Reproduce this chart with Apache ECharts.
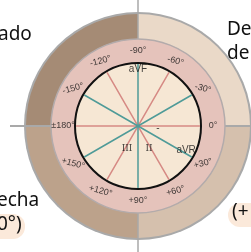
<!DOCTYPE html>
<html>
<head>
<meta charset="utf-8">
<script src="https://cdn.jsdelivr.net/npm/echarts@6/dist/echarts.min.js"></script>
<style>
  html, body { margin: 0; padding: 0; background: #fff; }
  #chart_div { width: 251px; height: 252px; }
</style>
</head>
<body>
<div id="chart_div"></div>
<script>
// 六轴参考系统 (导联角度, 顺时针为正)
var leadAngles = [0, 60, 120, -150, -30, 90]
var leadColors = ['#d68a84', '#d68a84', '#d68a84', '#4f9b98', '#4f9b98', '#4f9b98']

// 刻度
var tickAngles = [-90, -60, -30, 0, 30, 60, 90, 120, 150, 180, -150, -120]
var tickLabels = ['-90°', '-60°', '-30°', '0°', '+30°', '+60°', '+90°', '+120°', '+150°', '±180°', '-150°', '-120°']

// 导联名 [半径, 角度, 文字]
var leadNames = [[57, -90, 'aVF'], [54, 27, 'aVR'], [25, 64, 'II'], [25, 116, 'III'], [20, 6, '-']]

// 外环四个象限 (从上方顺时针)
var quadrants = [1, 1, 1, 1]
var quadColors = ['#ead9c8', '#d5c0ad', '#bca28b', '#a58b75']

var R_IN = 63, R_PINK = 87, R_OUT = 112, R_TICK = 75

var myChart = echarts.init(document.getElementById('chart_div'))

function norm(a) {
  a = a + 180
  return a > 180 ? a - 360 : a
}

var series = []

// 外环
series.push({
  type: 'pie', silent: true, z: 1, center: [138, 126], radius: [0, R_OUT + 2],
  label: { show: false }, data: [{ value: 1, itemStyle: { color: '#a9a9a9' } }]
})
series.push({
  type: 'pie', silent: true, z: 1, center: [138, 126], radius: [R_PINK, R_OUT],
  startAngle: 90, clockwise: true, label: { show: false },
  data: quadrants.map(function (v, i) { return { value: v, itemStyle: { color: quadColors[i] } } })
})

// 灰色十字
series.push({
  type: 'line', coordinateSystem: 'polar', silent: true, z: 2, symbol: 'none',
  lineStyle: { color: '#a9a9a9', width: 2 },
  data: [[128, 180], [0, 0], [140, 0]]
})
series.push({
  type: 'line', coordinateSystem: 'polar', silent: true, z: 2, symbol: 'none',
  lineStyle: { color: '#a9a9a9', width: 1.5 },
  data: [[140, -90], [0, 0], [140, 90]]
})

// 粉色环 + 内圆
series.push({
  type: 'pie', silent: true, z: 3, center: [138, 126], radius: [0, R_PINK],
  label: { show: false },
  data: [{ value: 1, itemStyle: { color: '#e5c3bb', borderColor: '#b3abab', borderWidth: 1.5 } }]
})
series.push({
  type: 'pie', silent: true, z: 3, center: [138, 126], radius: [0, R_IN],
  label: { show: false },
  data: [{ value: 1, itemStyle: { color: '#f6e7d4', borderColor: '#111', borderWidth: 2 } }]
})

// 导联线
for (var i = 0; i < leadAngles.length; i++) {
  var a = leadAngles[i]
  series.push({
    type: 'line', coordinateSystem: 'polar', silent: true, z: 4, symbol: 'none',
    lineStyle: { color: leadColors[i], width: 1.5 },
    data: [[R_IN - 1, a], [0, a], [R_IN - 1, norm(a)]]
  })
}

// 角度刻度
series.push({
  type: 'scatter', coordinateSystem: 'polar', silent: true, z: 5, symbolSize: 0,
  data: tickAngles.map(function (a, i) {
    return {
      value: [R_TICK, a],
      label: { formatter: tickLabels[i], rotate: Math.round(17 * Math.sin(2 * a * Math.PI / 180)) }
    }
  }),
  label: { show: true, position: 'inside', color: '#111', fontSize: 9, fontFamily: 'Liberation Sans' }
})

// 导联名称 (罗马数字用衬线体)
series.push({
  type: 'scatter', coordinateSystem: 'polar', silent: true, z: 5, symbolSize: 0,
  data: leadNames.map(function (d) {
    var roman = /^I+$/.test(d[2])
    return {
      value: [d[0], d[1]],
      label: { formatter: d[2], fontFamily: roman ? 'DejaVu Serif' : 'Liberation Sans', fontSize: roman ? 9 : 10 }
    }
  }),
  label: { show: true, position: 'inside', color: '#111' }
})

var txt = { fill: '#111', fontSize: 19, fontFamily: 'Noto Sans' }

var option = {
  animation: false,
  backgroundColor: '#fff',
  polar: { center: [138, 126], radius: 140 },
  angleAxis: { type: 'value', min: -180, max: 180, startAngle: 180, clockwise: true, show: false },
  radiusAxis: { type: 'value', min: 0, max: 140, show: false },
  graphic: [
    { type: 'text', left: -2, top: 25, style: Object.assign({ text: 'ado' }, txt) },
    { type: 'text', left: 227, top: 20, style: Object.assign({ text: 'Des' }, txt) },
    { type: 'text', left: 227, top: 44, style: Object.assign({ text: 'del' }, txt) },
    { type: 'text', left: -3, top: 191, style: Object.assign({ text: 'echa' }, txt) },
    { type: 'rect', shape: { x: -20, y: 214, width: 45, height: 25, r: 12 }, style: { fill: '#fbe9da' } },
    { type: 'text', left: -3, top: 215, style: Object.assign({ text: '0°)' }, txt) },
    { type: 'rect', shape: { x: 228, y: 203, width: 45, height: 24, r: 12 }, style: { fill: '#fbe9da' } },
    { type: 'text', left: 232, top: 202, style: Object.assign({ text: '(+' }, txt) }
  ],
  series: series
}

myChart.setOption(option)
</script>
</body>
</html>
